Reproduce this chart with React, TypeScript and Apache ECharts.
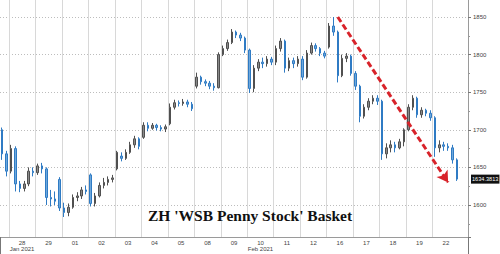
import React, { useEffect, useRef } from "react";
import * as echarts from "echarts";

// trading days (27 Jan is only partly visible)
const dayLabels = ["27", "28", "29", "01", "02", "03", "04", "05", "08", "09", "10", "11", "12", "16", "17", "18", "19", "22"];
const barsPerDay = [2, 6, 6, 6, 6, 6, 6, 6, 6, 6, 6, 6, 6, 6, 6, 6, 6, 6];
const monthLabels: Record<string, string> = { "28": "Jan 2021", "10": "Feb 2021" };
const monthStartDay = "01";
const trailingEmpty = 2;

// [open, close, low, high]
const ohlc: number[][] = [
  // 27
  [1700, 1668, 1660, 1703], [1668, 1645, 1638, 1672],
  // 28
  [1645, 1675, 1642, 1680], [1675, 1628, 1618, 1678], [1628, 1622, 1617, 1632],
  [1622, 1628, 1618, 1632], [1628, 1645, 1625, 1650], [1645, 1643, 1638, 1650],
  // 29
  [1643, 1652, 1640, 1655], [1652, 1648, 1642, 1656], [1648, 1610, 1600, 1650],
  [1610, 1608, 1598, 1620], [1608, 1605, 1600, 1618], [1634, 1596, 1592, 1637],
  // 01
  [1596, 1590, 1584, 1603], [1590, 1597, 1585, 1602], [1597, 1610, 1595, 1614],
  [1610, 1612, 1605, 1617], [1612, 1620, 1608, 1624], [1620, 1618, 1614, 1626],
  // 02
  [1640, 1602, 1598, 1642], [1602, 1612, 1598, 1616], [1612, 1626, 1610, 1630],
  [1626, 1630, 1622, 1636], [1630, 1634, 1626, 1638], [1634, 1636, 1630, 1640],
  // 03
  [1648, 1670, 1646, 1672], [1665, 1662, 1658, 1670], [1662, 1670, 1660, 1674],
  [1670, 1680, 1668, 1684], [1680, 1688, 1676, 1692], [1688, 1678, 1674, 1690],
  // 04
  [1690, 1706, 1688, 1710], [1706, 1702, 1698, 1710], [1702, 1706, 1700, 1709],
  [1706, 1703, 1699, 1708], [1703, 1701, 1698, 1706], [1701, 1704, 1697, 1707],
  // 05
  [1708, 1730, 1706, 1735], [1730, 1736, 1727, 1740], [1736, 1735, 1731, 1739],
  [1735, 1737, 1732, 1741], [1737, 1734, 1730, 1740], [1734, 1728, 1725, 1737],
  // 08
  [1758, 1770, 1755, 1776], [1770, 1764, 1760, 1772], [1764, 1762, 1758, 1767],
  [1762, 1758, 1754, 1765], [1758, 1756, 1752, 1762], [1756, 1800, 1755, 1803],
  // 09
  [1800, 1808, 1798, 1812], [1808, 1816, 1805, 1820], [1816, 1830, 1814, 1834],
  [1830, 1826, 1822, 1832], [1826, 1822, 1818, 1829], [1822, 1806, 1802, 1824],
  // 10
  [1806, 1755, 1749, 1808], [1755, 1782, 1750, 1786], [1782, 1790, 1778, 1794],
  [1790, 1788, 1782, 1796], [1788, 1794, 1784, 1798], [1794, 1790, 1786, 1797],
  // 11
  [1790, 1808, 1786, 1812], [1808, 1818, 1804, 1822], [1818, 1782, 1776, 1820],
  [1782, 1792, 1778, 1796], [1792, 1788, 1782, 1796], [1788, 1794, 1784, 1798],
  // 12
  [1794, 1770, 1766, 1798], [1770, 1802, 1768, 1806], [1802, 1812, 1800, 1816],
  [1812, 1808, 1804, 1815], [1808, 1802, 1798, 1810], [1802, 1798, 1795, 1805],
  // 16
  [1810, 1838, 1808, 1842], [1838, 1830, 1825, 1850], [1830, 1772, 1763, 1832],
  [1772, 1795, 1770, 1800], [1795, 1798, 1790, 1802], [1798, 1775, 1772, 1800],
  // 17
  [1775, 1758, 1753, 1778], [1758, 1718, 1710, 1760], [1718, 1730, 1715, 1734],
  [1730, 1738, 1726, 1742], [1738, 1742, 1734, 1746], [1742, 1738, 1733, 1746],
  // 18
  [1738, 1668, 1660, 1740], [1668, 1676, 1662, 1682], [1676, 1680, 1670, 1686],
  [1680, 1676, 1670, 1684], [1676, 1684, 1674, 1688], [1684, 1700, 1678, 1702],
  // 19
  [1700, 1730, 1698, 1734], [1730, 1742, 1726, 1746], [1742, 1720, 1716, 1744],
  [1720, 1726, 1716, 1730], [1726, 1722, 1718, 1728], [1722, 1716, 1712, 1726],
  // 22
  [1716, 1676, 1664, 1718], [1676, 1680, 1670, 1686], [1680, 1678, 1672, 1684],
  [1678, 1676, 1672, 1682], [1676, 1660, 1655, 1680], [1660, 1634.3813, 1632, 1662],
];

const lastPrice = 1634.3813;
// red dashed trend arrow: [bar index, value]
const trendArrow = [[76, 1850], [101, 1630]];
const yMin = 1557.4;
const yMax = 1875.3;
const titleText = "ZH 'WSB Penny Stock' Basket";

const categories: string[] = [];
const labelIndices = new Set<number>();
const monthLabelIndices = new Set<number>();
const dayStartIndices = new Set<number>();
let monthStartIndex = -1;
dayLabels.forEach((d, di) => {
  const n = barsPerDay[di];
  for (let j = 0; j < n; j++) {
    const idx = categories.length;
    if (j === 0 && di > 0) dayStartIndices.add(idx);
    if (j === 0 && d === monthStartDay) monthStartIndex = idx;
    if (n === 6 && j === 2) {
      labelIndices.add(idx);
      if (monthLabels[d]) monthLabelIndices.add(idx);
    }
    categories.push(`${d}-${j}`);
  }
});
for (let k = 0; k < trailingEmpty; k++) categories.push(`e-${k}`);

export default function App() {
  const ref = useRef<HTMLDivElement>(null);
  useEffect(() => {
    if (!ref.current) return;
    document.body.style.margin = "0";
    document.body.style.overflow = "hidden";
    const chart = echarts.init(ref.current, null, { renderer: "svg" });
    const font = "Liberation Sans, Arial, sans-serif";
    const dayOf = (v: string) => v.split("-")[0];
    chart.setOption({
      animation: false,
      backgroundColor: "#ffffff",
      title: {
        text: titleText,
        left: 148,
        top: 207,
        padding: 0,
        textStyle: {
          fontFamily: "Liberation Serif, Times New Roman, serif",
          fontWeight: "bold",
          fontSize: 15.5,
          color: "#111",
        },
      },
      grid: { left: 0, right: 32, top: -2, bottom: 17, outerBoundsMode: "none" },
      xAxis: [
        {
          type: "category",
          data: categories,
          boundaryGap: true,
          axisLine: { show: true, lineStyle: { color: "#9a9a9a", width: 1 } },
          axisTick: {
            show: true,
            interval: (i: number) => i === monthStartIndex,
            length: 17,
            lineStyle: { color: "#777" },
          },
          axisLabel: {
            interval: (i: number) => labelIndices.has(i),
            formatter: (v: string) => dayOf(v),
            fontFamily: font,
            fontSize: 6,
            lineHeight: 6,
            color: "#444",
            margin: 3,
            hideOverlap: false,
            padding: [0, 0, 0, 4.4],
          },
          splitLine: {
            show: true,
            interval: (i: number) => dayStartIndices.has(i),
            lineStyle: { color: "#d8d8d8", width: 1 },
          },
        },
        {
          type: "category",
          data: categories,
          position: "bottom",
          offset: 7,
          boundaryGap: true,
          axisLine: { show: false },
          axisTick: { show: false },
          splitLine: { show: false },
          axisLabel: {
            interval: (i: number) => monthLabelIndices.has(i),
            formatter: (v: string) => monthLabels[dayOf(v)] || "",
            fontFamily: font,
            fontSize: 6,
            lineHeight: 6,
            color: "#444",
            margin: 2,
            hideOverlap: false,
            padding: [0, 0, 0, 4.4],
          },
        },
      ],
      yAxis: {
        type: "value",
        position: "right",
        min: yMin,
        max: yMax,
        axisLine: { show: true, lineStyle: { color: "#9a9a9a", width: 1 } },
        axisTick: { show: true, length: 3, lineStyle: { color: "#777" } },
        minorTick: { show: true, splitNumber: 2, length: 2, lineStyle: { color: "#999" } },
        axisLabel: {
          showMinLabel: false,
          showMaxLabel: false,
          fontFamily: font,
          fontSize: 6,
          color: "#444",
          margin: 5,
          formatter: (v: number) => (v % 50 === 0 ? String(v) : ""),
        },
        splitLine: {
          show: true,
          lineStyle: { color: "#bdbdbd", type: [1, 2], width: 1 },
        },
      },
      series: [
        {
          type: "candlestick",
          data: ohlc,
          barWidth: 2,
          itemStyle: {
            color: "#8a8a8a",
            borderColor: "#505050",
            color0: "#6ea8dc",
            borderColor0: "#2f7bc4",
            borderWidth: 1,
          },
          markLine: {
            silent: true,
            animation: false,
            data: [
              [
                {
                  coord: [categories[trendArrow[0][0]], trendArrow[0][1]],
                  symbol: "none",
                },
                {
                  coord: [categories[trendArrow[1][0]], trendArrow[1][1]],
                  symbol: "arrow",
                  symbolSize: [10, 11],
                },
              ],
            ],
            lineStyle: { color: "#d8232a", width: 3, type: [6, 3] },
            label: { show: false },
          },
        },
        {
          type: "line",
          data: [],
          silent: true,
          markLine: {
            silent: true,
            animation: false,
            symbol: "none",
            data: [{ yAxis: lastPrice }],
            lineStyle: { color: "rgba(0,0,0,0)", width: 0 },
            label: {
              show: true,
              position: "end",
              distance: 3,
              formatter: String(lastPrice),
              backgroundColor: "#111",
              color: "#fff",
              fontFamily: font,
              fontSize: 5.6,
              padding: [2, 1, 1, 1],
            },
          },
        },
      ],
    });
    return () => chart.dispose();
  }, []);
  return <div ref={ref} style={{ width: 500, height: 254 }} />;
}
